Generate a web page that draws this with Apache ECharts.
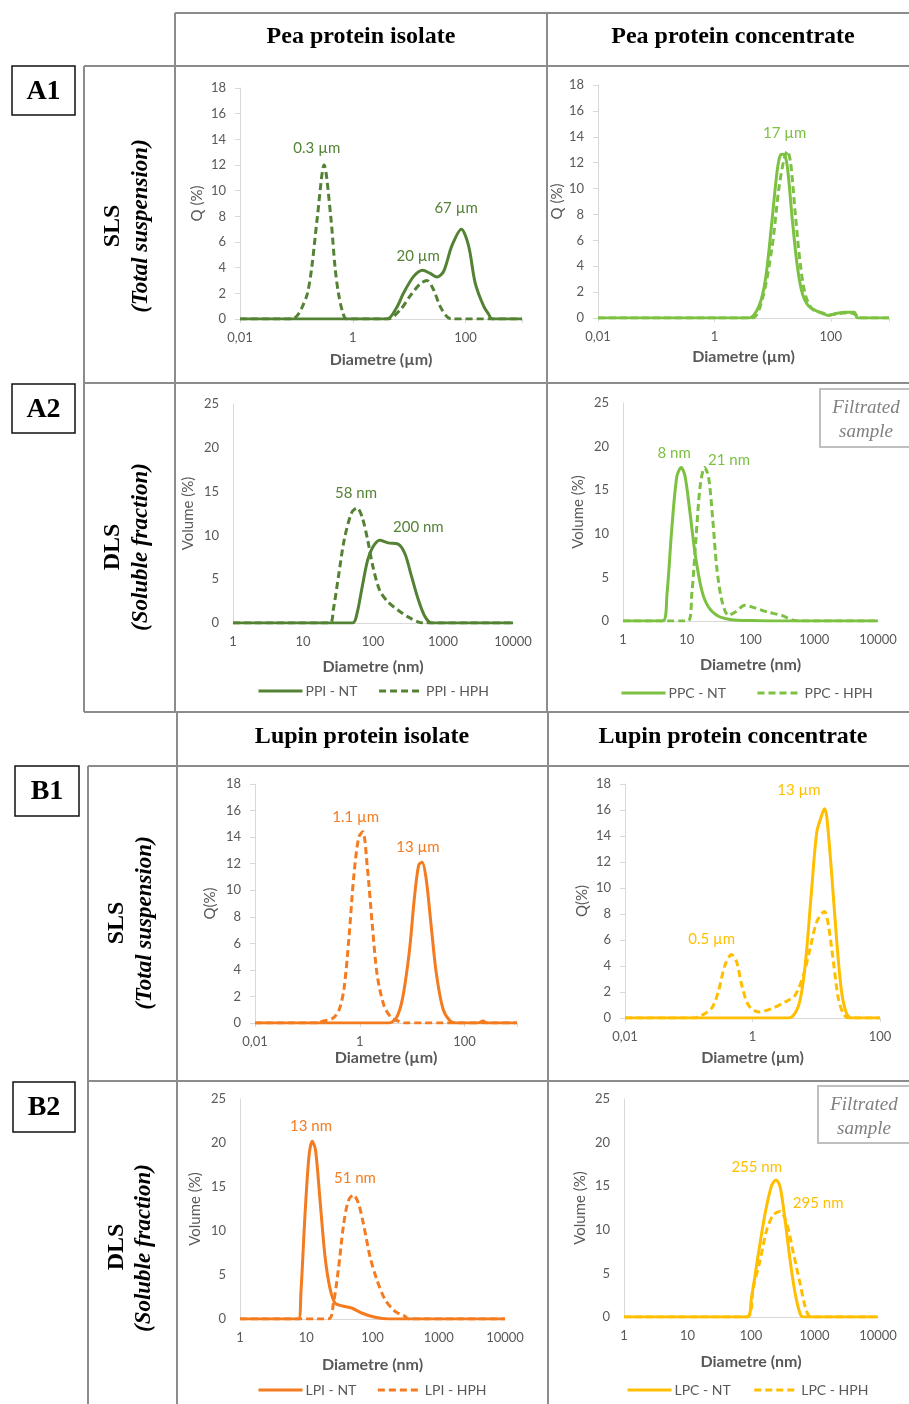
<!DOCTYPE html>
<html>
<head>
<meta charset="utf-8">
<title>Particle size distributions - pea and lupin proteins</title>
<script src="https://cdn.jsdelivr.net/npm/echarts@6.0.0/dist/echarts.min.js"></script>
<style>
  html, body { margin: 0; padding: 0; background: #fff; }
  #chart { width: 909px; height: 1404px; }
</style>
</head>
<body>
<div id="chart"></div>
<script>
// ---------- data (diameter in µm for SLS, nm for DLS; values in %) ----------
// A1 - pea protein isolate, SLS
const ppiSlsNtD = [0.01, 4, 6, 7.9, 11.9, 17.3, 23.6, 31, 40.7, 57, 84, 113, 148, 209, 258, 295, 1000];
const ppiSlsNtQ = [0, 0, 0.9, 2.0, 3.3, 3.8, 3.55, 3.27, 3.7, 5.7, 7.0, 5.7, 2.8, 1.0, 0.35, 0, 0];
const ppiSlsHphD = [0.01, 0.085, 0.105, 0.129, 0.157, 0.187, 0.236, 0.31, 0.406, 0.485, 0.557, 0.664, 0.78, 4.2, 6.9, 10.4, 15.7, 20.6, 26.9, 35.2, 46.4, 57, 1000];
const ppiSlsHphQ = [0, 0, 0.3, 1.0, 2.0, 4.0, 8.0, 12.0, 8.0, 4.0, 2.0, 0.5, 0, 0, 0.7, 1.8, 2.75, 3.0, 2.3, 1.0, 0.2, 0, 0];
const ppiSlsNotes = [['0.3 µm', 0.23, 13.3], ['20 µm', 14.4, 4.93], ['67 µm', 67.8, 8.67]];

// A1 - pea protein concentrate, SLS
const ppcSlsNtD = [0.01, 3.9, 5.8, 7.55, 9.8, 12, 13.7, 15.6, 17.9, 21.8, 26.6, 32.4, 42, 63, 94, 122, 182, 253, 288, 1000];
const ppcSlsNtQ = [0, 0, 0.9, 3.0, 7.6, 11.4, 12.6, 12.65, 11.7, 7.6, 4.0, 1.9, 0.9, 0.45, 0.2, 0.35, 0.45, 0.45, 0, 0];
const ppcSlsHphD = [0.01, 4.4, 6.6, 9.8, 12.8, 15.6, 17.9, 20.4, 24.8, 30.2, 37, 48, 72, 100, 139, 207, 270, 309, 1000];
const ppcSlsHphQ = [0, 0, 1.4, 5.5, 10.0, 12.2, 12.9, 12.0, 7.8, 4.0, 1.7, 0.7, 0.4, 0.25, 0.35, 0.4, 0.25, 0, 0];
const ppcSlsNotes = [['17 µm', 16.1, 14.3]];

// A2 - pea protein isolate, DLS
const ppiDlsNtD = [1, 51, 59, 70, 84, 100, 125, 164, 229, 286, 357, 447, 556, 693, 10000];
const ppiDlsNtQ = [0, 0, 1.07, 4.1, 7.2, 8.7, 9.45, 9.15, 9.0, 7.9, 5.26, 2.6, 0.7, 0, 0];
const ppiDlsHphD = [1, 24, 27, 32.5, 38.7, 49, 59, 70, 84, 100, 125, 164, 229, 316, 447, 556, 10000];
const ppiDlsHphQ = [0, 0, 1.45, 5.6, 9.45, 12.5, 13.15, 12.1, 9.45, 6.4, 3.7, 2.4, 1.45, 0.7, 0.1, 0, 0];
const ppiDlsNotes = [['58 nm', 57.2, 14.86], ['200 nm', 444, 10.97]];

// A2 - pea protein concentrate, DLS
const ppcDlsNtD = [1, 4.2, 4.9, 5.8, 7.0, 8.2, 9.4, 11.3, 13.5, 17.2, 21.9, 31.4, 50.7, 104, 272, 10000];
const ppcDlsNtQ = [0, 0, 3.1, 10.4, 16.6, 17.6, 16.6, 12.3, 7.75, 3.5, 1.6, 0.54, 0.15, 0.05, 0, 0];
const ppcDlsHphD = [1, 10.4, 12, 13.9, 16.2, 19, 21.9, 25.6, 29.5, 35.4, 45, 57, 82, 117, 190, 307, 440, 560, 10000];
const ppcDlsHphQ = [0, 0, 3.1, 9.3, 15.4, 17.6, 16.6, 11.6, 6.2, 2.4, 0.65, 1.0, 1.8, 1.5, 1.0, 0.65, 0.15, 0, 0];
const ppcDlsNotes = [['8 nm', 6.35, 19.3], ['21 nm', 46.1, 18.47]];

// B1 - lupin protein isolate, SLS
const lpiSlsNtD = [0.01, 3.6, 4.9, 6.5, 8.8, 11, 13.3, 15.4, 18.4, 22.9, 28.6, 38.4, 51.5, 69, 180, 224, 270, 1000];
const lpiSlsNtQ = [0, 0, 0.33, 1.8, 5.35, 9.4, 11.9, 12.1, 10.9, 7.4, 3.85, 1.1, 0.2, 0, 0, 0.15, 0, 0];
const lpiSlsHphD = [0.01, 0.17, 0.19, 0.30, 0.40, 0.50, 0.62, 0.77, 0.955, 1.14, 1.38, 1.73, 2.15, 2.9, 3.9, 5.6, 7.6, 1000];
const lpiSlsHphQ = [0, 0, 0.12, 0.33, 0.96, 2.6, 6.4, 11.1, 14.0, 14.4, 11.9, 7.4, 3.6, 1.3, 0.45, 0.12, 0, 0];
const lpiSlsNotes = [['1.1 µm', 0.837, 15.54], ['13 µm', 12.9, 13.27]];

// B1 - lupin protein concentrate, SLS
const lpcSlsNtD = [0.01, 3.7, 5.3, 6.7, 8.5, 10.2, 12.2, 13.4, 14.6, 17.5, 21, 25, 30, 36, 100];
const lpcSlsNtQ = [0, 0, 0.98, 4.06, 10, 14.3, 15.6, 16.1, 15.5, 11, 5.85, 2.0, 0.33, 0, 0];
const lpcSlsHphD = [0.01, 0.12, 0.16, 0.23, 0.29, 0.37, 0.47, 0.565, 0.68, 0.865, 1.24, 2.0, 3.24, 4.65, 6.3, 8, 10.2, 13.4, 15.5, 18.6, 22.2, 26.6, 32, 100];
const lpcSlsHphQ = [0, 0, 0.2, 0.77, 2.0, 4.06, 4.88, 4.3, 2.5, 0.98, 0.46, 0.72, 1.23, 1.75, 3.3, 5.35, 7.4, 8.2, 7.14, 4.3, 1.5, 0.33, 0, 0];
const lpcSlsNotes = [['13 µm', 5.36, 17.54], ['0.5 µm', 0.229, 6.06]];

// B2 - lupin protein isolate, DLS
const lpiDlsNtD = [1, 7.6, 8.3, 9.6, 11, 12.3, 13.8, 16.1, 19.2, 22.8, 27.2, 34.3, 48.5, 68.6, 109, 174, 10000];
const lpiDlsNtQ = [0, 0, 2.95, 12, 18.5, 20.2, 19.2, 13.6, 7.1, 3.5, 1.8, 1.5, 1.25, 0.68, 0.19, 0, 0];
const lpiDlsHphD = [1, 21.5, 25.7, 30.5, 36.3, 43, 51.3, 61, 72.6, 91.6, 116, 155, 219, 309, 347, 10000];
const lpiDlsHphQ = [0, 0, 1.8, 5.6, 10.5, 13.4, 14.1, 13.2, 10.9, 7.1, 4.5, 2.2, 0.87, 0.3, 0, 0];
const lpiDlsNotes = [['13 nm', 11.8, 21.9], ['51 nm', 54.4, 16.06]];

// B2 - lupin protein concentrate, DLS
const lpcDlsNtD = [1, 85.5, 102, 131, 167, 212, 248, 287, 344, 413, 496, 594, 670, 10000];
const lpcDlsNtQ = [0, 0, 2.3, 7.3, 11.9, 15.1, 15.7, 14.95, 11.1, 6.5, 2.7, 0.38, 0, 0];
const lpcDlsHphD = [1, 85.5, 109, 139, 177, 225, 287, 366, 466, 594, 713, 804, 912, 10000];
const lpcDlsHphQ = [0, 0, 3.45, 6.5, 10, 11.7, 12.1, 10.7, 7.3, 3.8, 1.15, 0.2, 0, 0];
const lpcDlsNotes = [['255 nm', 123, 17.2], ['295 nm', 1142, 13.08]];

// ---------- colours / fonts ----------
const C_PPI = '#548235';
const C_PPC = '#7cc142';
const C_LPI = '#f47b20';
const C_LPC = '#ffbf00';
const AXIS_GREY = '#d9d9d9';
const TEXT_GREY = '#595959';
const SANS = 'Lato';
const SERIF = '"Liberation Serif", "Times New Roman", serif';
const LINE_GREY = '#8c8c8c';

// ---------- panels ----------
const panels = [
  { g: [240, 88, 282, 231], x: [0.01, 1000, 2], y: [18, 2], sls: true, color: C_PPI,
    yName: 'Q (%)', yGap: 35, xName: 'Diametre (µm)', xGap: 33,
    names: ['PPI - NT (SLS)', 'PPI - HPH (SLS)'], nt: [ppiSlsNtD, ppiSlsNtQ], hph: [ppiSlsHphD, ppiSlsHphQ], notes: ppiSlsNotes },
  { g: [598, 85, 291, 233], x: [0.01, 1000, 2], y: [18, 2], sls: true, color: C_PPC,
    yName: 'Q (%)', yGap: 30, xName: 'Diametre (µm)', xGap: 31,
    names: ['PPC - NT (SLS)', 'PPC - HPH (SLS)'], nt: [ppcSlsNtD, ppcSlsNtQ], hph: [ppcSlsHphD, ppcSlsHphQ], notes: ppcSlsNotes },
  { g: [233, 404, 280, 219], x: [1, 10000, 1], y: [25, 5], sls: false, color: C_PPI,
    yName: 'Volume (%)', yGap: 37, xName: 'Diametre (nm)', xGap: 36,
    names: ['PPI - NT', 'PPI - HPH'], nt: [ppiDlsNtD, ppiDlsNtQ], hph: [ppiDlsHphD, ppiDlsHphQ], notes: ppiDlsNotes,
    legend: [252, 679, 20] },
  { g: [623, 403, 255, 218], x: [1, 10000, 1], y: [25, 5], sls: false, color: C_PPC,
    yName: 'Volume (%)', yGap: 37, xName: 'Diametre (nm)', xGap: 36,
    names: ['PPC - NT', 'PPC - HPH'], nt: [ppcDlsNtD, ppcDlsNtQ], hph: [ppcDlsHphD, ppcDlsHphQ], notes: ppcDlsNotes,
    legend: [615, 681, 30] },
  { g: [255, 784, 262, 239], x: [0.01, 1000, 2], y: [18, 2], sls: true, color: C_LPI,
    yName: 'Q(%)', yGap: 37, xName: 'Diametre (µm)', xGap: 27,
    names: ['LPI - NT (SLS)', 'LPI - HPH (SLS)'], nt: [lpiSlsNtD, lpiSlsNtQ], hph: [lpiSlsHphD, lpiSlsHphQ], notes: lpiSlsNotes },
  { g: [625, 784, 255, 234], x: [0.01, 100, 2], y: [18, 2], sls: true, color: C_LPC,
    yName: 'Q(%)', yGap: 35, xName: 'Diametre (µm)', xGap: 32,
    names: ['LPC - NT (SLS)', 'LPC - HPH (SLS)'], nt: [lpcSlsNtD, lpcSlsNtQ], hph: [lpcSlsHphD, lpcSlsHphQ], notes: lpcSlsNotes },
  { g: [240, 1099, 265, 220], x: [1, 10000, 1], y: [25, 5], sls: false, color: C_LPI,
    yName: 'Volume (%)', yGap: 37, xName: 'Diametre (nm)', xGap: 38,
    names: ['LPI - NT', 'LPI - HPH'], nt: [lpiDlsNtD, lpiDlsNtQ], hph: [lpiDlsHphD, lpiDlsHphQ], notes: lpiDlsNotes,
    legend: [252, 1378, 20] },
  { g: [624, 1099, 254, 218], x: [1, 10000, 1], y: [25, 5], sls: false, color: C_LPC,
    yName: 'Volume (%)', yGap: 36, xName: 'Diametre (nm)', xGap: 37,
    names: ['LPC - NT', 'LPC - HPH'], nt: [lpcDlsNtD, lpcDlsNtQ], hph: [lpcDlsHphD, lpcDlsHphQ], notes: lpcDlsNotes,
    legend: [621, 1378, 22] }
];

function pairs(d, v) {
  return d.map((x, i) => [x, v[i]]);
}

// 0,01 style labels, only on even decades when step is 2
function logLabel(step) {
  return function (v) {
    const e = Math.round(Math.log10(v));
    if (step === 2 && e % 2 !== 0) return '';
    return v < 1 ? String(+v.toFixed(4)).replace('.', ',') : String(Math.round(v));
  };
}

const grid = [], xAxis = [], yAxis = [], series = [], legend = [];

panels.forEach((p, i) => {
  grid.push({ left: p.g[0], top: p.g[1], width: p.g[2], height: p.g[3] });
  xAxis.push({
    type: 'log', logBase: 10, gridIndex: i,
    min: p.x[0], max: p.x[1], interval: p.x[2],
    name: p.xName, nameLocation: 'middle', nameGap: p.xGap,
    nameTextStyle: { fontFamily: SANS, fontSize: 16, fontWeight: 'bold', color: TEXT_GREY },
    axisLine: { show: true, lineStyle: { color: AXIS_GREY, width: 1 } },
    axisTick: { show: p.sls, length: 4, lineStyle: { color: AXIS_GREY } },
    splitLine: { show: false },
    minorTick: { show: false },
    axisLabel: { formatter: logLabel(p.x[2]), fontFamily: SANS, fontSize: 13, color: TEXT_GREY, margin: 12 }
  });
  yAxis.push({
    type: 'value', gridIndex: i, min: 0, max: p.y[0], interval: p.y[1],
    name: p.yName, nameLocation: 'middle', nameGap: p.yGap,
    nameTextStyle: { fontFamily: SANS, fontSize: 15, color: TEXT_GREY },
    axisLine: { show: true, lineStyle: { color: AXIS_GREY, width: 1 } },
    axisTick: { show: p.sls, length: 5, lineStyle: { color: AXIS_GREY } },
    splitLine: { show: false },
    axisLabel: { fontFamily: SANS, fontSize: 13, color: TEXT_GREY, margin: 14 }
  });
  const base = {
    type: 'line', xAxisIndex: i, yAxisIndex: i,
    symbol: 'none', showSymbol: false, smooth: 0.3, clip: true
  };
  series.push(Object.assign({}, base, {
    name: p.names[0], data: pairs(p.nt[0], p.nt[1]), z: 3,
    lineStyle: { color: p.color, width: 3, type: 'solid' },
    itemStyle: { color: p.color },
    markPoint: {
      symbol: 'circle', symbolSize: 0, silent: true,
      label: { show: true, position: 'inside', fontFamily: SANS, fontSize: 15, color: p.color,
        formatter: (prm) => prm.name },
      data: p.notes.map(n => ({ name: n[0], coord: [n[1], n[2]] }))
    }
  }));
  series.push(Object.assign({}, base, {
    name: p.names[1], data: pairs(p.hph[0], p.hph[1]), z: 2,
    lineStyle: { color: p.color, width: 3, type: [7, 4] },
    itemStyle: { color: p.color }
  }));
  if (p.legend) {
    legend.push({
      data: [p.names[0], p.names[1]],
      left: p.legend[0], top: p.legend[1], itemGap: p.legend[2],
      itemWidth: 44, itemHeight: 12, selectedMode: false,
      itemStyle: { opacity: 0 },
      lineStyle: { width: 3 },
      textStyle: { fontFamily: SANS, fontSize: 14, color: TEXT_GREY, padding: [0, 0, 0, -2] }
    });
  }
});

// ---------- table frame and labels ----------
function hline(x1, x2, y) {
  return { type: 'line', silent: true, shape: { x1: x1, y1: y, x2: x2, y2: y }, style: { stroke: LINE_GREY, lineWidth: 2 } };
}
function vline(x, y1, y2) {
  return { type: 'line', silent: true, shape: { x1: x, y1: y1, x2: x, y2: y2 }, style: { stroke: LINE_GREY, lineWidth: 2 } };
}
function text(str, x, y, font, fill, rot) {
  return { type: 'text', silent: true, x: x, y: y, rotation: rot || 0,
    style: { text: str, font: font, fill: fill || '#000', align: 'center', verticalAlign: 'middle' } };
}
function tagBox(str, x, y, w, h) {
  return [
    { type: 'rect', silent: true, shape: { x: x, y: y, width: w, height: h }, style: { fill: '#fff', stroke: '#111', lineWidth: 1.5 } },
    text(str, x + w / 2, y + h / 2 + 1, 'bold 28px ' + SERIF)
  ];
}
function filtBox(x, y, w, h) {
  return [
    { type: 'rect', silent: true, shape: { x: x, y: y, width: w, height: h }, style: { fill: '#fff', stroke: '#bfbfbf', lineWidth: 2 } },
    text('Filtrated', x + 46, y + 19, 'italic 19px ' + SERIF, '#808080'),
    text('sample', x + 46, y + 43, 'italic 19px ' + SERIF, '#808080')
  ];
}

const HEAD = 'bold 24px ' + SERIF;
const ROW = 'bold 24px ' + SERIF;
const SUB = 'bold italic 23px ' + SERIF;
const UP = Math.PI / 2;

const frame = [
  // section A
  hline(175, 909, 13), vline(175, 13, 712), vline(547, 13, 712),
  hline(84, 909, 66), vline(84, 66, 712), hline(84, 909, 383), hline(84, 909, 712),
  // section B
  vline(177, 712, 1404), vline(548, 712, 1404),
  hline(88, 909, 766), vline(88, 766, 1404), hline(88, 909, 1081),
  // headers
  text('Pea protein isolate', 361, 37, HEAD),
  text('Pea protein concentrate', 733, 37, HEAD),
  text('Lupin protein isolate', 362, 737, HEAD),
  text('Lupin protein concentrate', 733, 737, HEAD),
  // row labels
  text('SLS', 113, 226, ROW, '#000', UP),
  text('(Total suspension)', 141, 226, SUB, '#000', UP),
  text('DLS', 113, 547, ROW, '#000', UP),
  text('(Soluble fraction)', 141, 547, SUB, '#000', UP),
  text('SLS', 117, 923, ROW, '#000', UP),
  text('(Total suspension)', 145, 923, SUB, '#000', UP),
  text('DLS', 117, 1247, ROW, '#000', UP),
  text('(Soluble fraction)', 144, 1248, SUB, '#000', UP)
].concat(
  tagBox('A1', 12, 66, 63, 49),
  tagBox('A2', 12, 384, 63, 49),
  tagBox('B1', 15, 766, 64, 50),
  tagBox('B2', 13, 1082, 62, 50),
  filtBox(820, 389, 100, 58),
  filtBox(818, 1086, 100, 57)
);

const chart = echarts.init(document.getElementById('chart'));
chart.setOption({
  animation: false,
  backgroundColor: '#fff',
  grid: grid,
  xAxis: xAxis,
  yAxis: yAxis,
  legend: legend,
  series: series,
  graphic: { elements: frame }
});
</script>
</body>
</html>
